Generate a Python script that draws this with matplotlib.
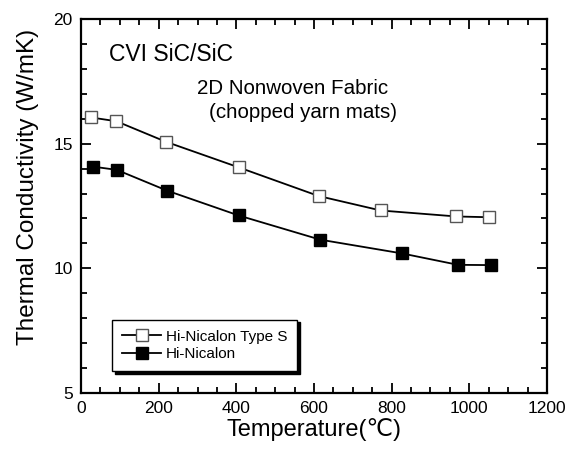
import matplotlib
matplotlib.use('Agg')
import matplotlib.pyplot as plt
from matplotlib.ticker import MultipleLocator

plt.rcParams['font.family'] = ['Liberation Sans', 'DejaVu Sans']

# Data.
temp_type_s = [26, 91, 218, 406, 612, 772, 967, 1050]
cond_type_s = [16.05, 15.9, 15.08, 14.05, 12.9, 12.32, 12.08, 12.05]
temp_hi = [30, 92, 221, 406, 616, 826, 971, 1057]
cond_hi = [14.08, 13.95, 13.12, 12.12, 11.15, 10.6, 10.14, 10.13]

labels = ['Hi-Nicalon Type S', 'Hi-Nicalon']

fig = plt.figure(figsize = (5.71, 4.49), dpi = 100)
ax = fig.add_axes([0.1419, 0.1247, 0.816, 0.833])

ax.plot(temp_type_s, cond_type_s, '-s', color = 'black', lw = 1.3,
        markerfacecolor = 'white', markeredgecolor = '#555555', markersize = 9, label = labels[0])
ax.plot(temp_hi, cond_hi, '-s', color = 'black', lw = 1.3,
        markerfacecolor = 'black', markeredgecolor = 'black', markersize = 9, label = labels[1])

ax.set_xlim(0, 1200)
ax.set_ylim(5, 20)
ax.xaxis.set_major_locator(MultipleLocator(200))
ax.xaxis.set_minor_locator(MultipleLocator(50))
ax.yaxis.set_major_locator(MultipleLocator(5))
ax.yaxis.set_minor_locator(MultipleLocator(1))
ax.tick_params(which = 'both', direction = 'in', top = True, right = True, width = 1.3)
ax.tick_params(which = 'major', length = 7, labelsize = 12.5, pad = 6)
ax.tick_params(which = 'minor', length = 4)
for s in ax.spines.values():
   s.set_linewidth(1.6)

ax.set_xlabel('Temperature(\u2103)', fontsize = 17, labelpad = 1)
ax.set_ylabel('Thermal Conductivity (W/mK)', fontsize = 17.5)
ax.yaxis.set_label_coords(-0.09, 0.55)

ax.text(0.06, 0.905, 'CVI SiC/SiC', transform = ax.transAxes, fontsize = 16.5, va = 'center')
ax.text(0.248, 0.815, '2D Nonwoven Fabric', transform = ax.transAxes, fontsize = 14.8, va = 'center')
ax.text(0.275, 0.75, '(chopped yarn mats)', transform = ax.transAxes, fontsize = 14.8, va = 'center')

leg = ax.legend(loc = 'lower left', bbox_to_anchor = (0.066, 0.058), fontsize = 11,
                fancybox = False, shadow = {'color': 'black', 'alpha': 1.0}, framealpha = 1,
                edgecolor = 'black', handlelength = 2.6, borderpad = 0.65, labelspacing = 0.25,
                handletextpad = 0.3, borderaxespad = 0)
leg.get_frame().set_linewidth(1.0)

fig.savefig('out.png', dpi = 100)
